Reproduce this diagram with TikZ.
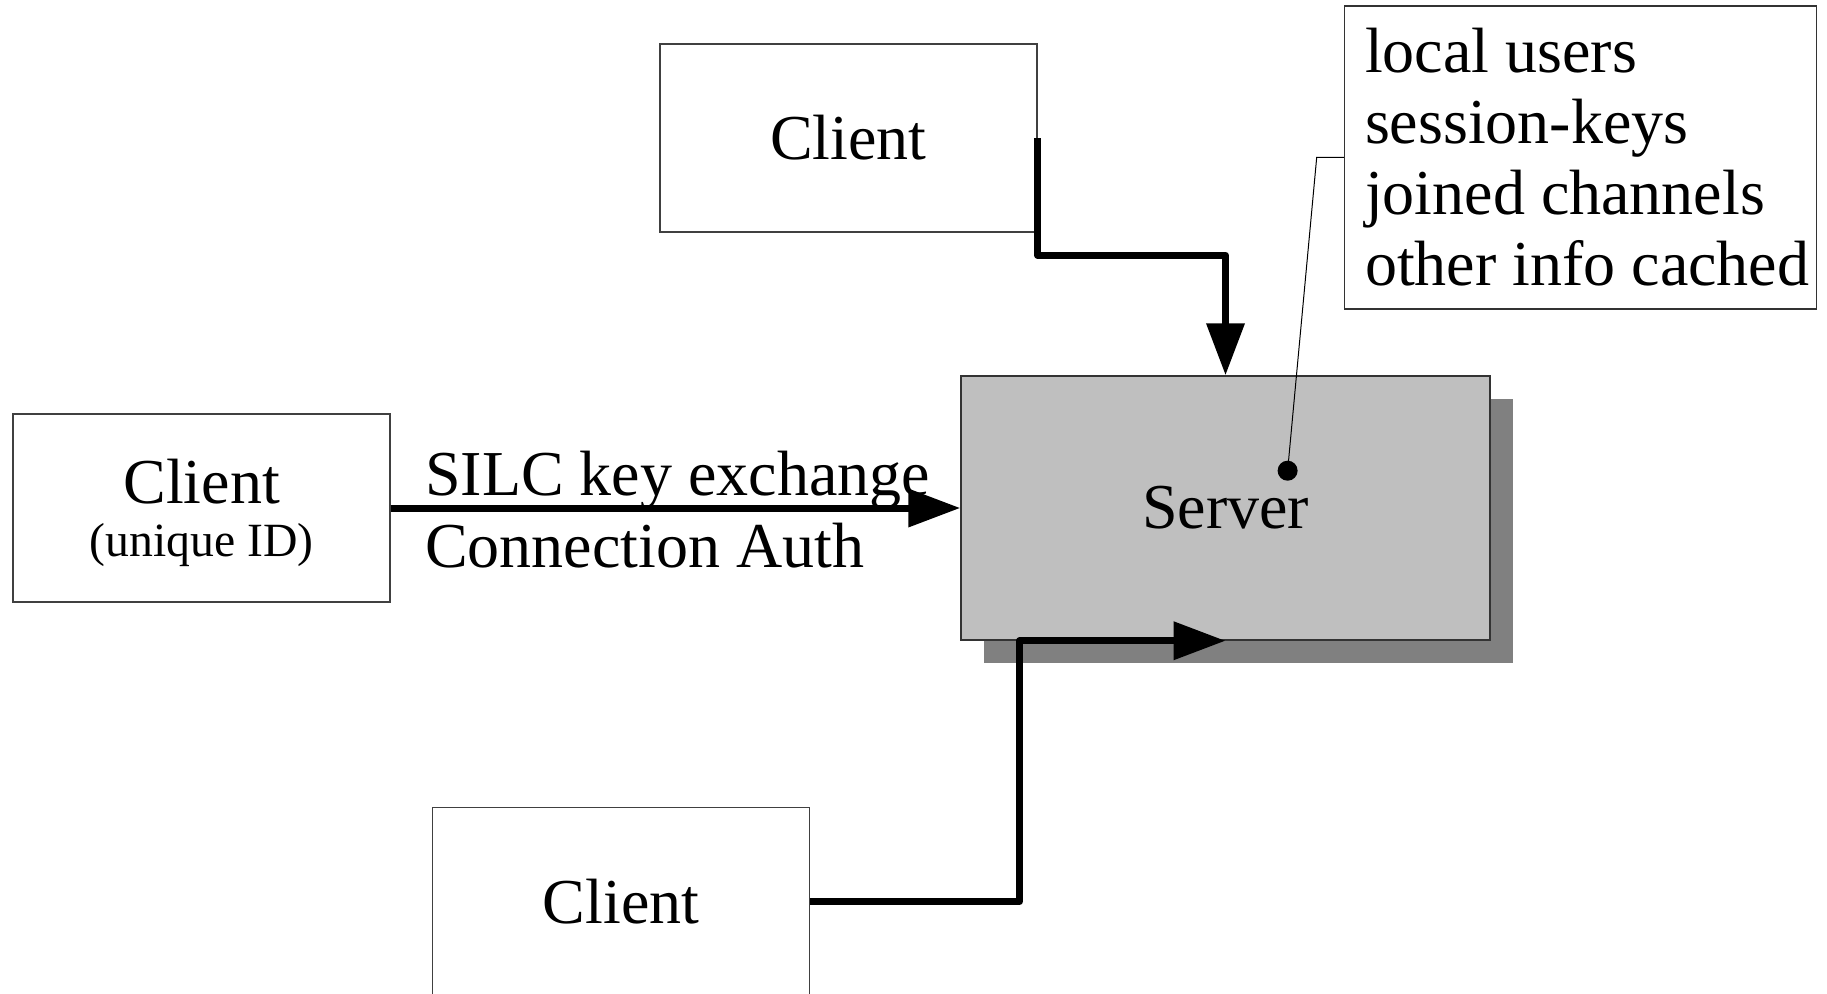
\documentclass[tikz,border=0pt]{standalone}
\usepackage{fontspec}
\setmainfont{Liberation Serif}
\usetikzlibrary{arrows.meta}

\tikzset{
  clientbox/.style={draw=black!75, line width=1.5pt, fill=white, minimum width=377pt,
    minimum height=188pt, inner sep=0pt, font=\fontsize{64}{71}\selectfont},
  serverbox/.style={draw=black!80, line width=1.5pt, fill=black!25, minimum width=529pt,
    minimum height=264pt, inner sep=0pt, font=\fontsize{64}{71}\selectfont},
  shadowbox/.style={fill=black!50, minimum width=529pt, minimum height=264pt, inner sep=0pt},
  infobox/.style={draw=black!80, line width=1.5pt, fill=white, minimum width=472pt,
    minimum height=303pt, inner sep=0pt},
  infotext/.style={align=left, inner sep=0pt, font=\fontsize{64}{71}\selectfont},
  bigtext/.style={inner sep=0pt, font=\fontsize{64}{71}\selectfont},
  smalltext/.style={inner sep=0pt, font=\fontsize{47.7}{56}\selectfont},
  flow/.style={line width=7pt, line join=round, -{Triangle[length=52pt,width=37pt]}},
  callout/.style={line width=1pt, black},
  pindot/.style={circle, fill=black, minimum size=20pt, inner sep=0pt},
}

\begin{document}
\begin{tikzpicture}[x=1pt, y=-1pt]
  \useasboundingbox (0,0) rectangle (1827,993);
  \clip (0,0) rectangle (1827,993);

  % client boxes
  \node[clientbox] (c1) at (848.3,138) {Client};
  \node[clientbox] (c2) at (201.4,508) {};
  \node[bigtext] (c2name) at (201.6,482) {Client};
  \node[smalltext] (c2id) at (201.6,545) {(unique ID)};
  \node[clientbox] (c3) at (621.2,901.5) {Client};

  % server with drop shadow
  \node[shadowbox] (shadow) at (1248.5,531) {};
  \node[serverbox] (server) at (1225.5,508) {Server};

  % cached information box
  \node[infobox] (info) at (1580.6,157.3) {};
  \node[infotext, anchor=west] (infotxt) at ([xshift=21pt]info.west)
    {local users\\session-keys\\joined channels\\other info cached};

  % callout from the server to its cache
  \node[pindot] (pin) at (1287.6,470.7) {};
  \coordinate (bend) at (1316.7,157.3);
  \draw[callout] (pin.center) -- (bend) -- (info.west);

  % connection labels
  \node[bigtext, anchor=base west] (lab1) at (425,495) {SILC key exchange};
  \node[bigtext, anchor=base west] (lab2) at (425,567.5) {Connection Auth};

  % connections
  \coordinate (k1) at (1100,255.2);
  \coordinate (k3) at (1019.6,760);
  \draw[flow] (c1.east) |- (k1) -| (server.north);
  \draw[flow] (c2.east) -- (server.west);
  \draw[flow] (c3.east) -| (k3) |- (server.south);
\end{tikzpicture}
\end{document}
